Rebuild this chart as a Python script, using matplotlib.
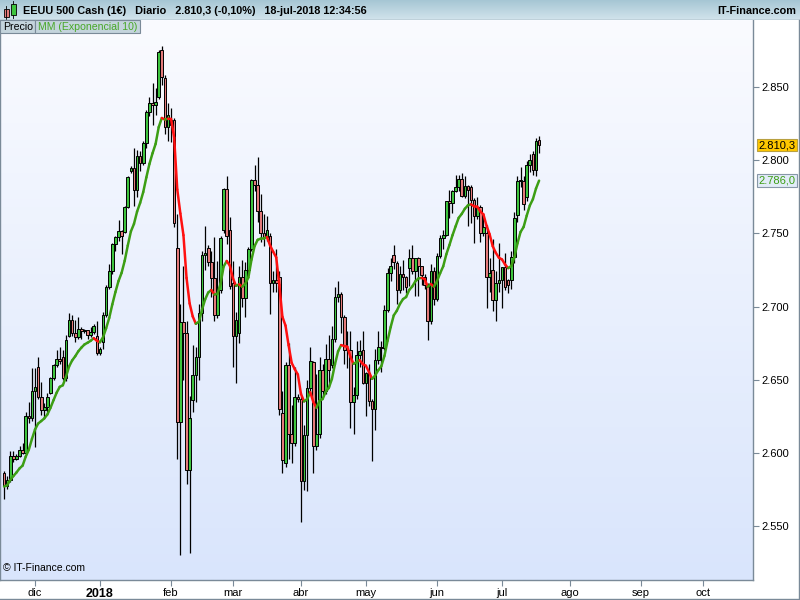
import numpy as np
import matplotlib
matplotlib.use("Agg")
import matplotlib.pyplot as plt
import pandas as pd
from matplotlib.collections import LineCollection
from matplotlib.colors import LinearSegmentedColormap
from matplotlib.patches import Rectangle

plt.rcParams['font.family'] = ['Liberation Sans', 'DejaVu Sans']

# daily candles of the EEUU 500 Cash CFD, one per weekday from 17-nov-2017 to 18-jul-2018
opens = [2586, 2577, 2581.5, 2598, 2596, 2597.5, 2602, 2600, 2625, 2623.5,
         2642, 2659, 2638.5, 2629.5, 2631.5, 2640.7, 2651, 2660, 2664, 2665.8,
         2651, 2680, 2691, 2682, 2679, 2684.6, 2683.3, 2683.8, 2680.5, 2682.6,
         2680, 2668.5, 2676, 2694.3, 2713, 2724, 2743, 2747.7, 2751.3, 2751.2,
         2768.3, 2792.8, 2794.4, 2779.6, 2802.6, 2798, 2811.5, 2833, 2839, 2837.5,
         2843.4, 2875.3, 2856, 2823, 2824, 2827.5, 2740, 2621.4, 2689.7, 2682,
         2588, 2636, 2653.3, 2665.8, 2695.4, 2735, 2739.8, 2730.7, 2719.3, 2694,
         2711, 2752.3, 2780, 2752, 2716, 2680, 2682, 2720, 2706, 2725,
         2739, 2786.6, 2783, 2765, 2750, 2747.3, 2748, 2716, 2718, 2720,
         2627, 2593, 2660, 2613, 2607, 2638, 2637, 2580.5, 2612, 2644,
         2662, 2604.5, 2613, 2656.9, 2642.2, 2664, 2660, 2678, 2706.4, 2708.6,
         2693, 2670, 2670.3, 2634.6, 2639.4, 2666.9, 2670, 2648, 2654.8, 2635.7,
         2629.7, 2663.4, 2672.6, 2671.9, 2697.8, 2723, 2735, 2730, 2711.5, 2722.5,
         2720, 2726, 2733, 2724.4, 2733, 2727.8, 2720, 2715, 2690, 2724,
         2705.3, 2734.6, 2746.9, 2748.8, 2772.4, 2770.4, 2779, 2782, 2786.9, 2775.6,
         2782.5, 2782, 2773, 2762, 2768.3, 2750.1, 2750.1, 2720.5, 2725, 2704.6,
         2716.3, 2718.4, 2726.7, 2718.2, 2718.2, 2734.1, 2762.6, 2786, 2786, 2775.1,
         2797, 2804.5, 2793, 2813.8]
highs = [2587.5, 2584, 2601, 2601, 2599, 2604.5, 2607, 2628, 2635, 2657.7,
         2657.8, 2665.2, 2648.7, 2634.4, 2641, 2652, 2661, 2670, 2672, 2670.3,
         2680.6, 2695.4, 2694.4, 2691, 2692.6, 2686, 2684.5, 2684, 2686, 2688,
         2690, 2672, 2696, 2714.4, 2729.3, 2743.5, 2748.5, 2759.1, 2752, 2768.5,
         2789, 2796, 2808, 2807, 2806, 2813, 2834, 2843, 2852.5, 2849,
         2875, 2878, 2858, 2839, 2836, 2829, 2763, 2702, 2728, 2690,
         2638.7, 2673.8, 2672.6, 2702, 2738, 2755, 2742, 2737.6, 2747.8, 2731,
         2748, 2781, 2789, 2761.5, 2731, 2696, 2728, 2732, 2730.6, 2740.5,
         2787, 2797, 2802, 2777, 2763, 2762, 2750, 2724, 2739, 2724,
         2642, 2662, 2675, 2633, 2659, 2640, 2639, 2619, 2650, 2672,
         2663, 2653.6, 2665.5, 2661, 2674.7, 2680.3, 2686.5, 2713.3, 2717.5, 2710,
         2694, 2683, 2683.5, 2645, 2676.5, 2677, 2683, 2655.3, 2661, 2637,
         2671, 2683.4, 2676.3, 2701.3, 2726, 2733, 2742, 2731, 2727.8, 2732,
         2721, 2739.2, 2742.2, 2733.3, 2734, 2728, 2722, 2716, 2729.3, 2727,
         2736.9, 2749.2, 2752.6, 2772.4, 2779.9, 2779.4, 2790.2, 2789.8, 2791.5, 2789.1,
         2783, 2783, 2774, 2774.9, 2769.3, 2764.2, 2756, 2732.9, 2746.1, 2724.3,
         2743.3, 2727.3, 2736.6, 2719, 2737.8, 2764.4, 2788.9, 2795.6, 2789, 2799.2,
         2804.5, 2806, 2815, 2816.8]
lows = [2568.5, 2575, 2580, 2593.9, 2595, 2597, 2598.9, 2599, 2620.3, 2622,
        2604.3, 2637, 2626, 2624, 2628, 2640, 2650, 2659, 2661, 2650,
        2649, 2679, 2680, 2676, 2678, 2678, 2682, 2678, 2678.9, 2681,
        2667, 2667, 2671, 2693, 2712, 2722, 2737.6, 2745, 2736, 2750,
        2767, 2791, 2768.6, 2775, 2792.6, 2797, 2808, 2830, 2824, 2831,
        2842, 2851.5, 2818, 2813, 2812.7, 2754, 2596, 2530, 2650, 2579,
        2531.5, 2628, 2635, 2650, 2690, 2725, 2728, 2706.8, 2690, 2692,
        2709, 2750, 2743, 2712, 2659, 2647.6, 2675, 2700, 2693, 2722.6,
        2738, 2779, 2758, 2744, 2741.5, 2745, 2694.6, 2710, 2709.8, 2626,
        2586, 2590, 2596, 2593, 2605, 2635, 2553, 2574.5, 2574, 2642,
        2586.3, 2602, 2610, 2639, 2640, 2645, 2658, 2676, 2703, 2682,
        2660.6, 2658, 2617.3, 2612.7, 2637, 2659, 2647, 2625.4, 2631.7, 2594.6,
        2615.3, 2661, 2655.2, 2670, 2696, 2717.5, 2725.9, 2701.9, 2709, 2711.4,
        2709.2, 2714, 2721.9, 2707.4, 2707.4, 2715, 2712, 2676.8, 2688, 2700.7,
        2704, 2733, 2739.5, 2748.5, 2760.2, 2763.6, 2778, 2778.8, 2774.7, 2774,
        2755, 2757.1, 2743.2, 2760, 2744.4, 2748, 2698.7, 2710, 2697, 2690,
        2710, 2699, 2711, 2709, 2712, 2730, 2758, 2782, 2766, 2772,
        2791.7, 2790, 2789, 2805]
closes = [2577, 2581.5, 2598, 2596, 2597.5, 2602, 2600, 2625, 2623.5, 2642,
          2645, 2638.5, 2629.5, 2631.5, 2638.5, 2651, 2660, 2664, 2663, 2651,
          2677, 2691, 2682, 2679, 2684.6, 2683.3, 2683.8, 2680.5, 2682.6, 2686.5,
          2668.5, 2671, 2694.3, 2713, 2724, 2743, 2747.7, 2751.3, 2748.2, 2768.3,
          2788.8, 2794.4, 2779.6, 2802.6, 2798, 2811.5, 2833, 2839, 2837.5, 2840,
          2874, 2857, 2823, 2830.9, 2827.5, 2757, 2621.4, 2689.7, 2682, 2588,
          2623.7, 2653.3, 2665.8, 2695.4, 2735, 2736.4, 2730.7, 2719.3, 2694, 2711,
          2747, 2780, 2748, 2714, 2680, 2691, 2720, 2706, 2725, 2739,
          2786.6, 2783, 2765, 2750, 2747.3, 2752, 2716, 2718, 2716, 2630,
          2595, 2660, 2613, 2607, 2638, 2637, 2580.5, 2612.3, 2644, 2662.8,
          2604.5, 2613, 2656.9, 2642.2, 2664, 2656.3, 2677.8, 2706.4, 2708.6, 2693,
          2670, 2670.3, 2634.6, 2639.4, 2666.9, 2669.9, 2648, 2654.8, 2635.7, 2629.7,
          2663.4, 2672.6, 2671.9, 2697.8, 2723, 2727.7, 2730.1, 2711.5, 2722.5, 2720,
          2713, 2733, 2724.4, 2733.3, 2727.8, 2721.3, 2715, 2689.9, 2724, 2705.3,
          2734.6, 2746.9, 2748.8, 2772.4, 2770.4, 2779, 2782, 2786.9, 2775.6, 2782.5,
          2779.7, 2773, 2762, 2767.3, 2750.1, 2754, 2720.5, 2723.1, 2704.6, 2716.3,
          2718.4, 2726.7, 2713.2, 2715, 2734.1, 2760.3, 2786, 2786, 2770, 2796.8,
          2800, 2793, 2813.4, 2810.3]

month_labels = ['dic', '2018', 'feb', 'mar', 'abr', 'may', 'jun', 'jul', 'ago', 'sep', 'oct']
price_ticks = [2550, 2600, 2650, 2700, 2750, 2800, 2850]
header = 'EEUU 500 Cash (1€)   Diario   2.810,3 (-0,10%)   18-jul-2018 12:34:56'
last_price = 2810.3

W, H = 800, 600
GREEN = '#3ec43e'
RED = '#e47a7a'
EMA_GREEN = '#3c9e14'
EMA_RED = '#ff1010'
AXIS_GREY = '#7a8a98'


def es_num(v):
    # 2810.3 -> '2.810,3'
    return f'{v:,.1f}'.replace(',', 'X').replace('.', ',').replace('X', '.')


dates = pd.bdate_range('2017-11-17', '2018-10-31')
n = len(closes)
x = np.arange(n)
o = np.array(opens)
h = np.array(highs)
lo = np.array(lows)
c = np.array(closes)

ema = [c[0]]
for v in c[1:]:
    ema.append(ema[-1] + 2.0 / 11 * (v - ema[-1]))
ema = np.array(ema)

fig = plt.figure(figsize=(W / 100, H / 100), dpi=100, facecolor='white')

# plot area: x 0..753 px, y 20..580 px
ax = fig.add_axes([0, 1 - 580 / H, 753 / W, 560 / H])
x0, x1 = -1.32, 242.17
y0, y1 = 2513.1, 2895.8
ax.set_xlim(x0, x1)
ax.set_ylim(y0, y1)
bg = np.linspace(0, 1, 256).reshape(-1, 1)
ax.imshow(bg, extent=[x0, x1, y0, y1], aspect='auto', zorder=0,
          cmap=LinearSegmentedColormap.from_list('bg', ['#fafbff', '#d9e5fc']))

ax.vlines(x, lo, h, color='black', lw=0.9, zorder=2)
body = np.maximum(np.abs(c - o), 0.5)
ax.bar(x, body, bottom=np.minimum(o, c), width=0.85,
       color=np.where(c >= o, GREEN, RED), edgecolor='black', linewidth=0.7, zorder=3)

pts = np.column_stack([x, ema])
segs = np.stack([pts[:-1], pts[1:]], axis=1)
cols = [EMA_RED if ema[i + 1] < ema[i] else EMA_GREEN for i in range(n - 1)]
ax.add_collection(LineCollection(segs, colors=cols, linewidths=1.8, zorder=4,
                                 capstyle='round', joinstyle='round'))

# month ticks at the first weekday of each month
starts = []
for m in pd.period_range('2017-12', '2018-10', freq='M'):
    first = dates[(dates.year == m.year) & (dates.month == m.month)][0]
    starts.append(dates.get_loc(first))
ax.set_xticks(starts)
ax.set_xticklabels(month_labels, fontsize=8)
ax.tick_params(axis='x', pad=1.5)
lab2018 = ax.get_xticklabels()[1]
lab2018.set_fontweight('bold')
lab2018.set_fontsize(9)

ax.yaxis.tick_right()
ax.set_yticks(price_ticks)
ax.set_yticklabels([f'{v:,}'.replace(',', '.') for v in price_ticks], fontsize=8)
ax.tick_params(axis='both', length=4, width=0.8, color=AXIS_GREY)
ax.tick_params(axis='y', pad=2)
for side in ['left', 'right', 'bottom']:
    ax.spines[side].set_color(AXIS_GREY)
    ax.spines[side].set_linewidth(1)
ax.spines['top'].set_visible(False)

ax.text(3 / 753, 7 / 560, '© IT-Finance.com', transform=ax.transAxes, fontsize=7.5, va='bottom')

# value boxes on the price axis
ytr = ax.get_yaxis_transform()
ax.text(1.0075, last_price, es_num(last_price), transform=ytr, fontsize=8,
        va='center', ha='left', clip_on=False,
        bbox=dict(boxstyle='square,pad=0.12', fc='#ffc800', ec='#b8a040', lw=0.8))
ax.text(1.0075, ema[-1], es_num(ema[-1]), transform=ytr, fontsize=8, va='center', ha='left',
        color='#3c9e14', clip_on=False,
        bbox=dict(boxstyle='square,pad=0.12', fc='#e2ecf8', ec='#8898a8', lw=0.8))

# header bar
hdr = fig.add_axes([0, 1 - 20 / H, 1, 20 / H])
hdr.imshow(np.linspace(0, 1, 64).reshape(-1, 1), extent=[0, W, 0, 20], aspect='auto',
           cmap=LinearSegmentedColormap.from_list('hdr', ['#d2e4ec', '#a6c6d4']))
hdr.set_xlim(0, W)
hdr.set_ylim(20, 0)
hdr.axis('off')
hdr.add_patch(Rectangle((3.5, 9), 5, 8, fc=RED, ec='black', lw=0.6))
hdr.plot([6, 6], [6, 19], color='black', lw=0.6, zorder=1)
hdr.add_patch(Rectangle((10.5, 3.5), 5, 11, fc=GREEN, ec='black', lw=0.6, zorder=2))
hdr.plot([13, 13], [1, 18], color='black', lw=0.6, zorder=1)
hdr.text(23, 10.5, header, fontsize=7.8, fontweight='bold', va='center', ha='left')
hdr.text(796, 10.5, 'IT-Finance.com', fontsize=7.8, fontweight='bold', va='center', ha='right')
hdr.plot([0, W], [19.5, 19.5], color=AXIS_GREY, lw=1)

# legend tabs
fig.patches.append(Rectangle((0, 1 - 33 / H), 35 / W, 13 / H, transform=fig.transFigure,
                             fc='#c4d4dc', ec=AXIS_GREY, lw=0.8))
fig.patches.append(Rectangle((35 / W, 1 - 33 / H), 105 / W, 13 / H, transform=fig.transFigure,
                             fc='#c4d4dc', ec=AXIS_GREY, lw=0.8))
fig.text(3 / W, 1 - 27 / H, 'Precio', fontsize=7.6, va='center', ha='left')
fig.text(38 / W, 1 - 27 / H, 'MM (Exponencial 10)', fontsize=7.6, va='center', ha='left', color='#48a828')

# outer frame on the right and bottom
fig.add_artist(plt.Line2D([798.5 / W, 798.5 / W], [0, 1 - 20 / H], color=AXIS_GREY, lw=1))
fig.add_artist(plt.Line2D([0, 1], [1.5 / H, 1.5 / H], color=AXIS_GREY, lw=1))

fig.savefig('out.png', dpi=100, facecolor='white')
